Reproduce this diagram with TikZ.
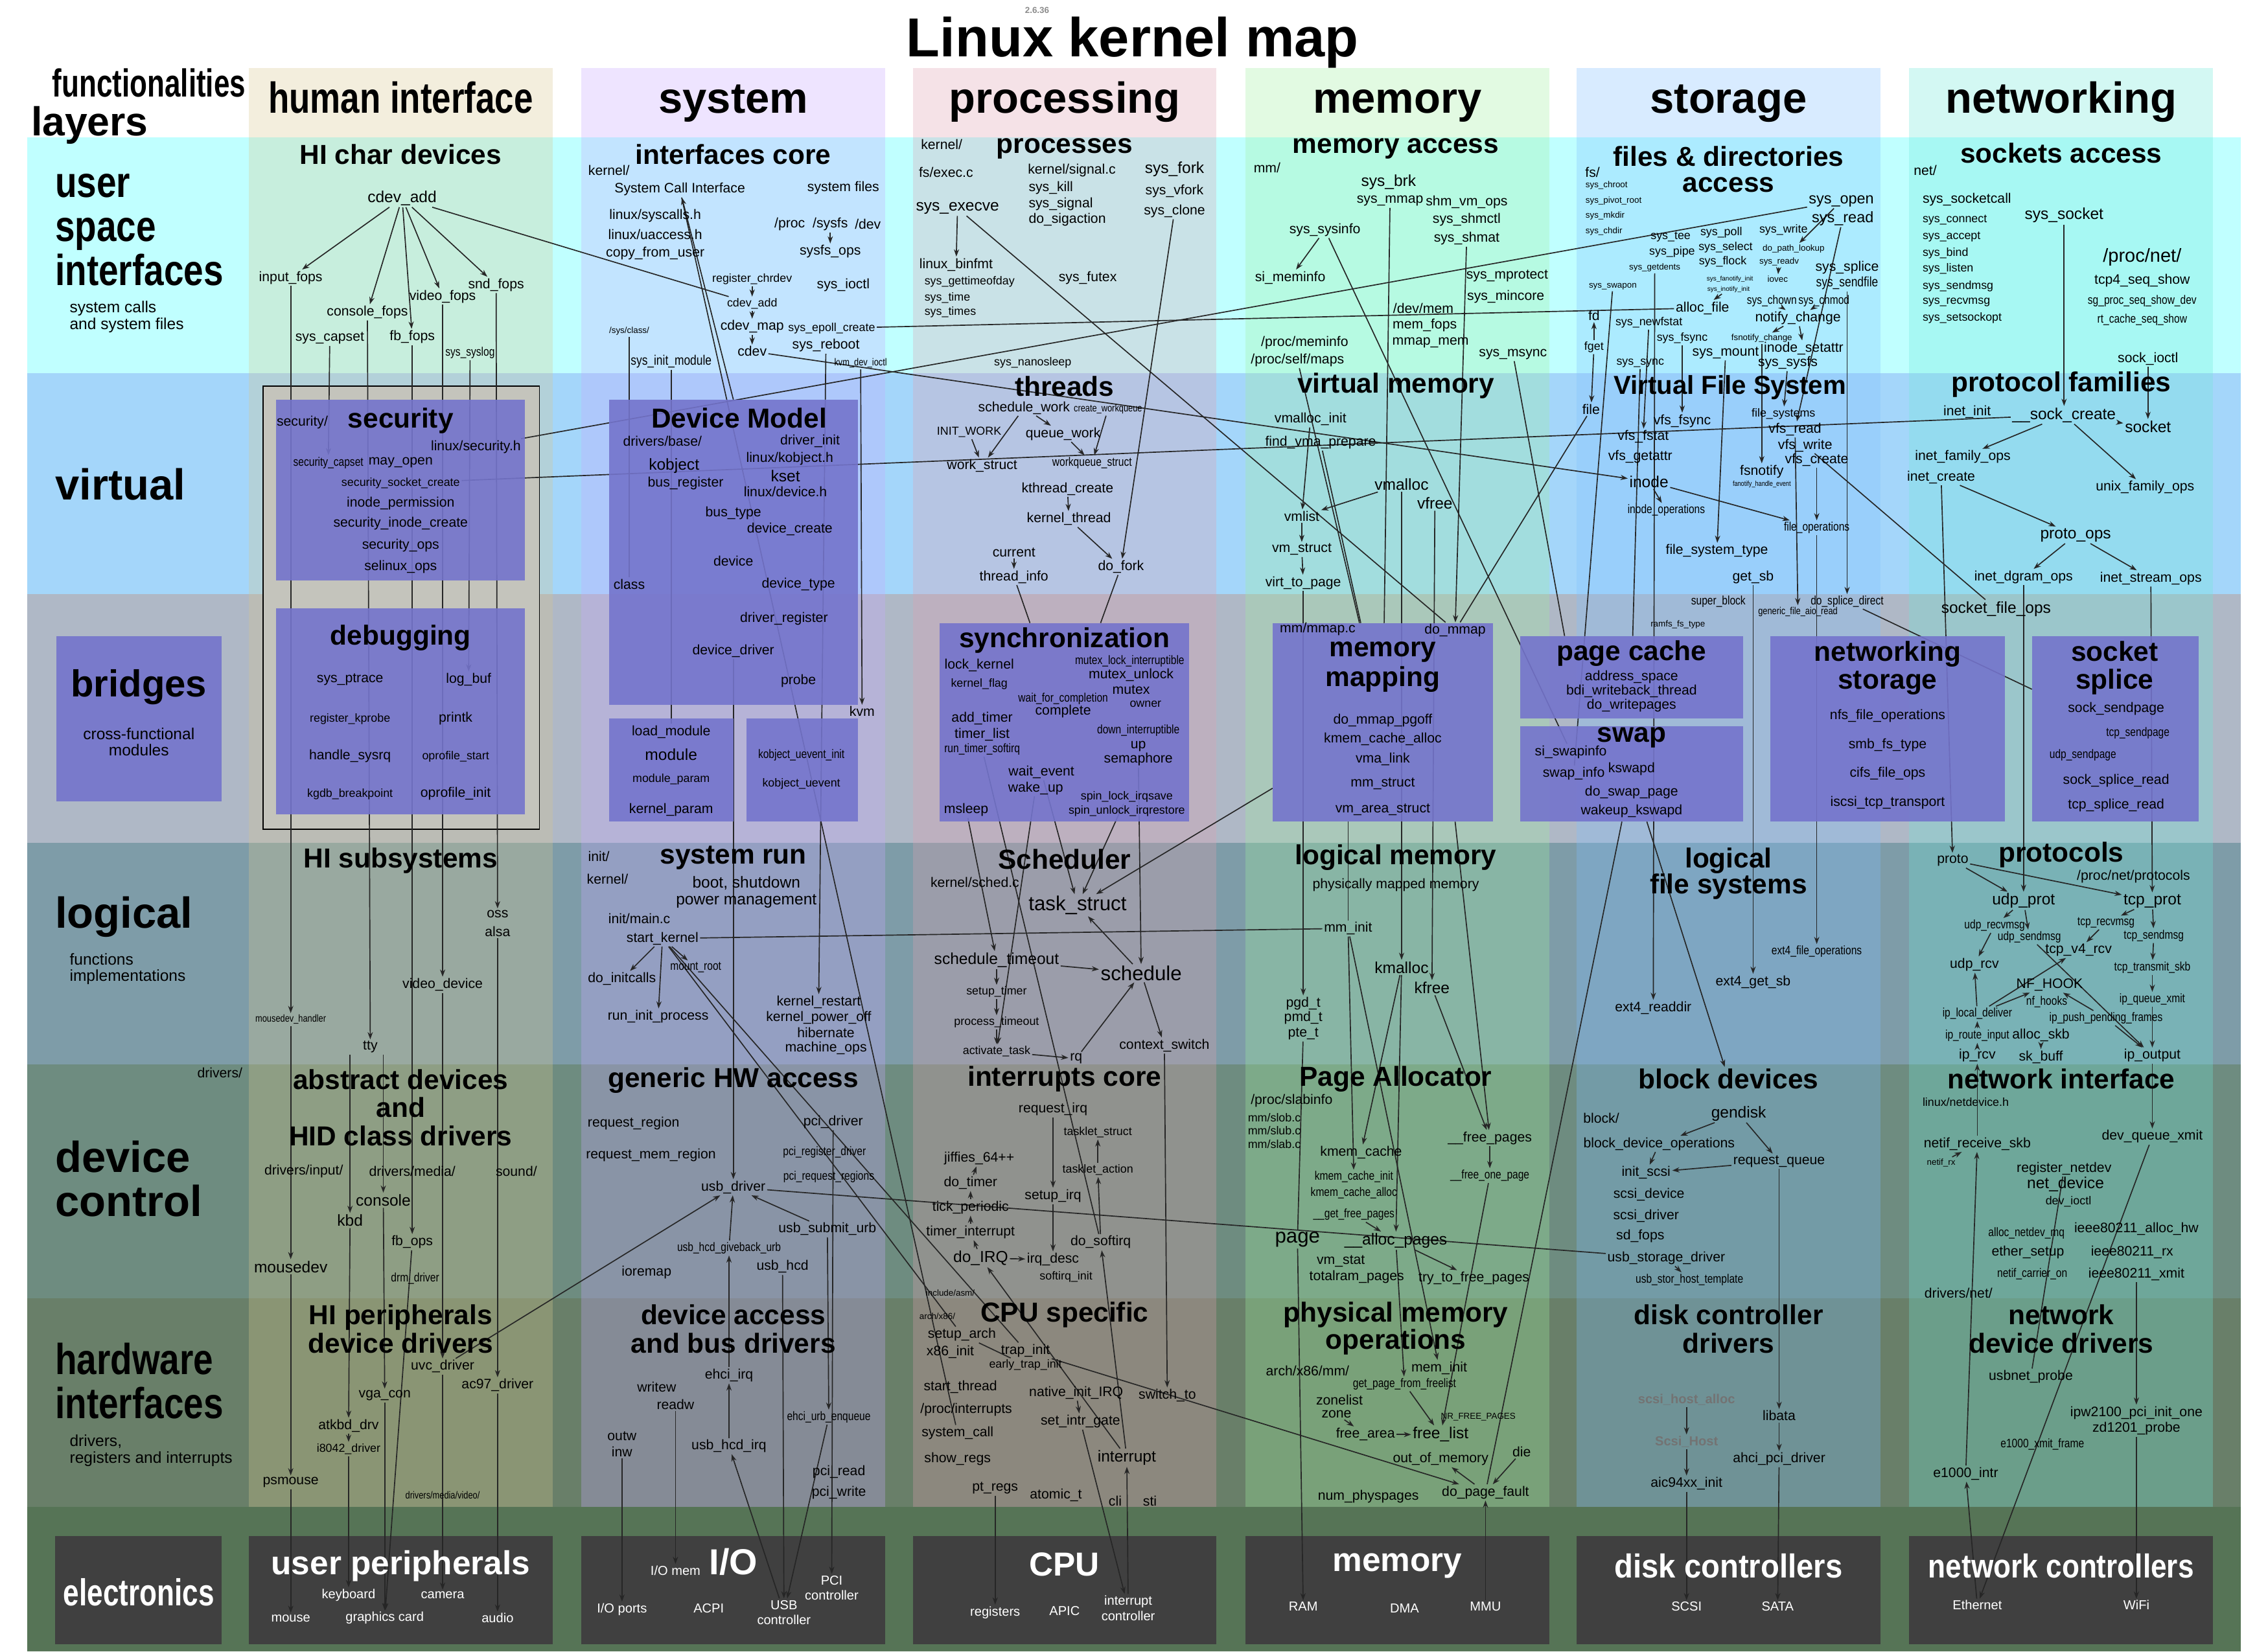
\documentclass[tikz,border=0pt]{standalone}
\usepackage{fontspec}
\usepackage{graphicx}
\setmainfont{Liberation Sans}
\newfontfamily\narfont[FakeStretch=0.82]{Liberation Sans}
\usetikzlibrary{arrows.meta, positioning, calc}

\definecolor{bandUser}{HTML}{C0FFFF}
\definecolor{bandVirt}{HTML}{A4D6FA}
\definecolor{bandBridge}{HTML}{AFB8C6}
\definecolor{bandLogic}{HTML}{7E9CA8}
\definecolor{bandDevice}{HTML}{6E8C80}
\definecolor{bandHW}{HTML}{697F69}
\definecolor{bandElec}{HTML}{567456}
\definecolor{tintHI}{HTML}{D8C890}
\definecolor{tintSys}{HTML}{C8A8FF}
\definecolor{tintProc}{HTML}{E0A0B0}
\definecolor{tintMem}{HTML}{A0F0A0}
\definecolor{tintStor}{HTML}{80C0FF}
\definecolor{tintNet}{HTML}{70E8D8}
\definecolor{modcol}{HTML}{7474CC}
\definecolor{chipcol}{HTML}{404040}
\definecolor{framecol}{HTML}{C4C4BC}

\pgfdeclarelayer{bands}
\pgfdeclarelayer{wires}
\pgfdeclarelayer{boxes}
\pgfsetlayers{bands,wires,boxes,main}

\begin{document}
\begin{tikzpicture}[
  x=1pt, y=-1pt,
  every node/.style={inner sep=1pt},
  fnX/.style={font=\fontsize{14}{15}\selectfont},
  fnA/.style={font=\fontsize{11}{12}\selectfont},
  fn/.style={font=\fontsize{9.5}{10.5}\selectfont},
  fnS/.style={font=\fontsize{8}{9}\selectfont},
  fnT/.style={font=\fontsize{6}{7}\selectfont},
  nfn/.style={font=\narfont\fontsize{9.5}{10.5}\selectfont},
  nfnS/.style={font=\narfont\fontsize{8.5}{9}\selectfont},
  nfnT/.style={font=\narfont\fontsize{7}{7.5}\selectfont},
  sect/.style={font=\bfseries\fontsize{19}{19.5}\selectfont, align=center},
  colhead/.style={font=\bfseries\fontsize{30}{30}\selectfont, anchor=base},
  layername/.style={font=\bfseries\fontsize{30}{30.5}\selectfont, align=left, anchor=west},
  layernote/.style={font=\fontsize{11}{11.5}\selectfont, align=left, anchor=west},
  module/.style={fill=modcol, fill opacity=.9, inner sep=0},
  chip/.style={fill=chipcol, inner sep=0},
  hwtitle/.style={font=\bfseries\fontsize{23}{23}\selectfont, text=white},
  hwlbl/.style={font=\fontsize{9}{10.5}\selectfont, text=white, align=center},
  dimlbl/.style={font=\bfseries\fontsize{9}{10}\selectfont, text=black!55},
  wire/.style={draw=black!85, line width=.75pt},
  link/.style={wire, -{Stealth[length=5pt,width=3.6pt]}}
]
\useasboundingbox (0,0) rectangle (1568,1142);

% layers and functionalities
\begin{pgfonlayer}{bands}
  \fill[white] (0,0) rectangle (1568,1142);
  \fill[bandUser] (19,95) rectangle (1549,258);
  \fill[bandVirt] (19,258) rectangle (1549,411);
  \fill[bandBridge] (19,411) rectangle (1549,583);
  \fill[bandLogic] (19,583) rectangle (1549,736);
  \fill[bandDevice] (19,736) rectangle (1549,898);
  \fill[bandHW] (19,898) rectangle (1549,1042);
  \fill[bandElec] (19,1042) rectangle (1549,1142);
  \foreach \cx/\tint in {172/tintHI,402/tintSys,631/tintProc,861/tintMem,1090/tintStor,1320/tintNet}
    \fill[\tint, opacity=.3] (\cx,47) rectangle ++(210,995);
  \draw[fill=framecol, line width=.8pt] (182,267) rectangle (373,573.5);
  % electronics
  \node[chip, minimum width=115, minimum height=75] (eelec) at (95.5,1099.5) {};
  \node[chip, minimum width=210, minimum height=75] (euser) at (277,1099.5) {};
  \node[chip, minimum width=210, minimum height=75] (eio) at (507,1099.5) {};
  \node[chip, minimum width=210, minimum height=75] (ecpu) at (736,1099.5) {};
  \node[chip, minimum width=210, minimum height=75] (emem) at (966,1099.5) {};
  \node[chip, minimum width=210, minimum height=75] (edisk) at (1195,1099.5) {};
  \node[chip, minimum width=210, minimum height=75] (enet) at (1425,1099.5) {};
\end{pgfonlayer}

% modules
\begin{pgfonlayer}{boxes}
  \node[module, minimum width=114, minimum height=114.5] (brbox) at (96,497) {};
  \node[module, minimum width=172, minimum height=125] (secbox) at (277,339) {};
  \node[module, minimum width=172, minimum height=142.5] (dbgbox) at (277,491.75) {};
  \node[module, minimum width=172, minimum height=211] (dmbox) at (507,382) {};
  \node[module, minimum width=86, minimum height=71] (modbox) at (464,532.5) {};
  \node[module, minimum width=77, minimum height=71] (kobbox) at (554.5,532.5) {};
  \node[module, minimum width=172.5, minimum height=137] (syncbox) at (736,499.5) {};
  \node[module, minimum width=152, minimum height=137] (mmapbox) at (956,499.5) {};
  \node[module, minimum width=154, minimum height=57] (pcbox) at (1128,468.5) {};
  \node[module, minimum width=154, minimum height=66] (swapbox) at (1128,535) {};
  \node[module, minimum width=162, minimum height=128] (nsbox) at (1305,504) {};
  \node[module, minimum width=115, minimum height=128] (ssbox) at (1462.5,504) {};
\end{pgfonlayer}

% headings
\node[font=\bfseries\fontsize{38}{38}\selectfont, anchor=base] (title) at (783,39) {Linux kernel map};
\node[font=\bfseries\fontsize{6}{6.5}\selectfont, text=black!45] (version) at (717,7) {2.6.36};
\node[font=\bfseries\fontsize{27}{27}\selectfont, anchor=base] (funcs) at (103,67) {\scalebox{.73}[1]{functionalities}};
\node[font=\bfseries\fontsize{28}{28}\selectfont, anchor=base] (layers) at (62,94) {layers};
\node[colhead] (chhuman) at (277,78) {\scalebox{.79}[1]{human interface}};
\node[colhead] (chsystem) at (507,78) {system};
\node[colhead] (chproc) at (736,78) {processing};
\node[colhead] (chmem) at (966,78) {memory};
\node[colhead] (chstor) at (1195,78) {storage};
\node[colhead] (chnet) at (1425,78) {networking};

\node[layername] (lyuser) at (37,159) {\scalebox{.82}[1]{user}\\\scalebox{.82}[1]{space}\\\scalebox{.82}[1]{interfaces}};
\node[layernote] (lyusernote) at (47,219) {system calls\\and system files};
\node[layername] (lyvirtual) at (37,335) {virtual};
\node[font=\bfseries\fontsize{26}{26}\selectfont] (brtitle) at (96,475) {bridges};
\node[font=\fontsize{11}{11.5}\selectfont, align=center] (brnote) at (96,513) {cross-functional\\modules};
\node[layername] (lylogical) at (37,634) {logical};
\node[layernote] (lylogicalnote) at (47,670) {functions\\implementations};
\node[layername] (lydevice) at (37,815) {device\\control};
\node[layername] (lyhw) at (37,955) {\scalebox{.82}[1]{hardware}\\\scalebox{.82}[1]{interfaces}};
\node[layernote] (lyhwnote) at (47,1003) {drivers,\\registers and interrupts};
\node[font=\bfseries\fontsize{26}{26}\selectfont, text=white] (eleclbl) at (96,1101) {\scalebox{.76}[1]{electronics}};

% human interface
\node[sect] (hchardev) at (277,107) {HI char devices};
\node[fnA] (hcdevadd) at (278,137) {cdev\_add};
\node[fn] (hinputfops) at (201,192) {input\_fops};
\node[fn] (hconsolefops) at (254,216) {console\_fops};
\node[fn] (hsyscapset) at (228,234) {sys\_capset};
\node[fn] (hfbfops) at (285,233) {fb\_fops};
\node[fn] (hvideofops) at (306,205) {video\_fops};
\node[fn] (hsndfops) at (343,197) {snd\_fops};
\node[nfnS] (hsyslog) at (325,244) {sys\_syslog};

\node[fn] (secdir) at (209,292) {security/};
\node[sect] (sectitle) at (277,291) {security};
\node[fn] (secsecurityh) at (329,309) {linux/security.h};
\node[nfnS] (secapset) at (227,320) {security\_capset};
\node[fn] (secmayopen) at (277,320) {may\_open};
\node[fnS] (secsockcreate) at (277,334) {security\_socket\_create};
\node[fn] (secinodeperm) at (277,348) {inode\_permission};
\node[fn] (secinodecreate) at (277,362) {security\_inode\_create};
\node[fn] (secops) at (277,377) {security\_ops};
\node[fn] (selinuxops) at (277,392) {selinux\_ops};

\node[sect] (dbgtitle) at (277,441) {debugging};
\node[fn] (dptrace) at (242,470) {sys\_ptrace};
\node[fn] (dlogbuf) at (324,470) {log\_buf};
\node[fnS] (dkprobe) at (242,497) {register\_kprobe};
\node[fn] (dprintk) at (315,497) {printk};
\node[fn] (dsysrq) at (242,523) {handle\_sysrq};
\node[fnS] (doprostart) at (315,523) {oprofile\_start};
\node[fnS] (dkgdb) at (242,549) {kgdb\_breakpoint};
\node[fn] (doproinit) at (315,549) {oprofile\_init};

\node[sect] (hsubsys) at (277,595) {HI subsystems};
\node[fn] (hoss) at (344,632) {oss};
\node[fn] (halsa) at (344,644) {alsa};
\node[fn] (hvideodev) at (306,681) {video\_device};
\node[nfnT] (hmousedevh) at (201,705) {mousedev\_handler};
\node[fn] (htty) at (256,724) {tty};
\node[fn] (hdrivers) at (152,742) {drivers/};

\node[sect] (habstract) at (277,766) {abstract devices\\and\\HID class drivers};
\node[fn] (hdrvinput) at (210,810) {drivers/input/};
\node[fn] (hdrvmedia) at (285,810) {drivers/media/};
\node[fn] (hsound) at (357,810) {sound/};
\node[fnA] (hconsole) at (265,830) {console};
\node[fnA] (hkbd) at (242,844) {kbd};
\node[fn] (hfbops) at (285,859) {fb\_ops};
\node[fnA] (hmousedev) at (201,876) {mousedev};
\node[nfnS] (hdrm) at (287,884) {drm\_driver};

\node[sect] (hperiph) at (277,919) {HI peripherals\\device drivers};
\node[fn] (huvc) at (306,945) {uvc\_driver};
\node[fn] (hac97) at (344,958) {ac97\_driver};
\node[fn] (hvgacon) at (266,965) {vga\_con};
\node[fn] (hatkbd) at (241,986) {atkbd\_drv};
\node[fnS] (hi8042) at (241,1002) {i8042\_driver};
\node[fn] (hpsmouse) at (201,1025) {psmouse};
\node[nfnT] (hmediavideo) at (306,1034) {drivers/media/video/};

\node[hwtitle] (eusertitle) at (277,1083) {user peripherals};
\node[hwlbl] (ekeyboard) at (241,1103) {keyboard};
\node[hwlbl] (ecamera) at (306,1103) {camera};
\node[hwlbl] (emouse) at (201,1119) {mouse};
\node[hwlbl] (egraphics) at (266,1119) {graphics card};
\node[hwlbl] (eaudio) at (344,1119) {audio};

% system
\node[sect] (sifcore) at (507,107) {interfaces core};
\node[fn] (skernel) at (421,118) {kernel/};
\node[fn] (ssci) at (470,131) {System Call Interface};
\node[fn] (ssysfiles) at (583,130) {system files};
\node[fn] (ssyscallsh) at (453,149) {linux/syscalls.h};
\node[fn] (suaccess) at (453,162) {linux/uaccess.h};
\node[fn] (scopyfrom) at (453,175) {copy\_from\_user};
\node[fn] (sproc) at (546,155) {/proc};
\node[fn] (ssysfs) at (574,155) {/sysfs};
\node[fn] (sdev) at (600,155) {/dev};
\node[fn] (ssysfsops) at (574,174) {sysfs\_ops};
\node[fnS] (sregchrdev) at (520,193) {register\_chrdev};
\node[fn] (ssysioctl) at (583,197) {sys\_ioctl};
\node[fnS] (scdevadd) at (520,210) {cdev\_add};
\node[fnT] (ssysclass) at (435,229) {/sys/class/};
\node[fn] (scdevmap) at (520,226) {cdev\_map};
\node[fnS] (sepoll) at (575,227) {sys\_epoll\_create};
\node[fn] (scdev) at (520,243) {cdev};
\node[fn] (ssysreboot) at (571,239) {sys\_reboot};
\node[nfn] (ssysinitmod) at (464,250) {sys\_init\_module};
\node[nfnT] (skvmioctl) at (595,251) {kvm\_dev\_ioctl};

\node[sect] (dmtitle) at (511,289) {Device Model};
\node[fn] (dmbase) at (458,305) {drivers/base/};
\node[fn] (dmdrvinit) at (560,305) {driver\_init};
\node[fn] (dmkobjh) at (546,317) {linux/kobject.h};
\node[fnA] (dmkobject) at (466,322) {kobject};
\node[fnA] (dmkset) at (543,329) {kset};
\node[fn] (dmbusreg) at (474,334) {bus\_register};
\node[fn] (dmdeviceh) at (543,340) {linux/device.h};
\node[fn] (dmbustype) at (507,355) {bus\_type};
\node[fn] (dmdevcreate) at (546,366) {device\_create};
\node[fn] (dmdevice) at (507,388) {device};
\node[fn] (dmclass) at (435,404) {class};
\node[fn] (dmdevtype) at (552,404) {device\_type};
\node[fn] (dmdrvreg) at (542,428) {driver\_register};
\node[fn] (dmdevdrv) at (507,450) {device\_driver};
\node[fn] (dmprobe) at (552,471) {probe};
\node[fn] (skvm) at (596,492) {kvm};
\node[fn] (sloadmod) at (464,506) {load\_module};
\node[fnA] (smodule) at (464,522) {module};
\node[fnS] (smodparam) at (464,539) {module\_param};
\node[fn] (skernparam) at (464,560) {kernel\_param};
\node[nfnS] (skobinit) at (554,522) {kobject\_uevent\_init};
\node[fnS] (skobuevent) at (554,542) {kobject\_uevent};

\node[fn] (sinit) at (414,592) {init/};
\node[sect] (ssysrun) at (507,593) {system run};
\node[fn] (skerneldir) at (420,608) {kernel/};
\node[fnA, align=center] (sboot) at (516,617) {boot, shutdown\\power management};
\node[fn] (sinitmain) at (442,635) {init/main.c};
\node[fn] (sstartkernel) at (458,649) {start\_kernel};
\node[nfnS] (smountroot) at (481,669) {mount\_root};
\node[fn] (sdoinitcalls) at (430,677) {do\_initcalls};
\node[fn] (sruninit) at (455,703) {run\_init\_process};
\node[fn] (skernrestart) at (566,693) {kernel\_restart};
\node[fn] (skernpoweroff) at (566,704) {kernel\_power\_off};
\node[fn] (shibernate) at (571,714) {hibernate};
\node[fn] (smachineops) at (571,725) {machine\_ops};

\node[sect] (sgenhw) at (507,747) {generic HW access};
\node[fn] (sreqregion) at (438,777) {request\_region};
\node[fn] (sreqmemregion) at (450,799) {request\_mem\_region};
\node[fn] (spcidriver) at (576,776) {pci\_driver};
\node[nfnS] (spciregdrv) at (570,797) {pci\_register\_driver};
\node[nfnS] (spcireqreg) at (573,814) {pci\_request\_regions};
\node[fn] (susbdriver) at (507,821) {usb\_driver};
\node[fn] (ssubmiturb) at (572,850) {usb\_submit\_urb};
\node[nfnS] (susbhcdgive) at (504,863) {usb\_hcd\_giveback\_urb};
\node[fn] (susbhcd) at (541,876) {usb\_hcd};
\node[fn] (sioremap) at (447,880) {ioremap};

\node[sect] (sdevaccess) at (507,919) {device access\\and bus drivers};
\node[fn] (sehciirq) at (504,951) {ehci\_irq};
\node[fn] (swritew) at (454,959) {writew};
\node[fn] (sreadw) at (467,971) {readw};
\node[nfnS] (sehciurb) at (573,980) {ehci\_urb\_enqueue};
\node[fn] (soutw) at (430,993) {outw};
\node[fn] (sinw) at (430,1004) {inw};
\node[fn] (susbhcdirq) at (504,1000) {usb\_hcd\_irq};
\node[fn] (spciread) at (580,1018) {pci\_read};
\node[fn] (spciwrite) at (580,1032) {pci\_write};

\node[hwtitle, font=\bfseries\fontsize{25}{25}\selectfont] (eiotitle) at (507,1080) {I/O};
\node[hwlbl] (eiomem) at (467,1086) {I/O mem};
\node[hwlbl] (epcictl) at (575,1098) {PCI\\controller};
\node[hwlbl] (eioports) at (430,1113) {I/O ports};
\node[hwlbl] (eacpi) at (490,1112) {ACPI};
\node[hwlbl] (eusbctl) at (542,1115) {USB\\controller};

% processing
\node[fn] (pkernel) at (651,100) {kernel/};
\node[sect] (pprocesses) at (736,103) {processes};
\node[fn] (pexec) at (654,119) {fs/exec.c};
\node[fn] (psignal) at (741,118) {kernel/signal.c};
\node[fn, anchor=west] (psyskill) at (710,130) {sys\_kill};
\node[fn, anchor=west] (psyssignal) at (710,141) {sys\_signal};
\node[fn, anchor=west] (pdosigaction) at (710,152) {do\_sigaction};
\node[fnA] (pexecve) at (662,144) {sys\_execve};
\node[fnA] (pfork) at (812,117) {sys\_fork};
\node[fn] (pvfork) at (812,132) {sys\_vfork};
\node[fn] (pclone) at (812,146) {sys\_clone};
\node[fn] (pbinfmt) at (661,183) {linux\_binfmt};
\node[fnS, anchor=west] (pgettime) at (638,195) {sys\_gettimeofday};
\node[fnS, anchor=west] (psystime) at (638,206) {sys\_time};
\node[fnS, anchor=west] (psystimes) at (638,216) {sys\_times};
\node[fn] (pfutex) at (752,192) {sys\_futex};
\node[fnS] (pnanosleep) at (714,251) {sys\_nanosleep};

\node[sect] (pthreads) at (736,267) {threads};
\node[fn] (pschedwork) at (708,282) {schedule\_work};
\node[nfnT] (pcreatewq) at (766,283) {create\_workqueue};
\node[fnS] (pinitwork) at (670,299) {INIT\_WORK};
\node[fn] (pqueuework) at (735,300) {queue\_work};
\node[fn] (pworkstruct) at (679,322) {work\_struct};
\node[nfnS] (pwqstruct) at (755,320) {workqueue\_struct};
\node[fn] (pkthread) at (738,338) {kthread\_create};
\node[fn] (pkernthread) at (739,359) {kernel\_thread};
\node[fn] (pcurrent) at (701,382) {current};
\node[fn] (pthreadinfo) at (701,399) {thread\_info};
\node[fn] (pdofork) at (775,392) {do\_fork};

\node[sect] (psynctitle) at (736,443) {synchronization};
\node[fn] (plockkernel) at (677,460) {lock\_kernel};
\node[fnS] (pkernflag) at (677,473) {kernel\_flag};
\node[nfnS] (pmutexint) at (781,457) {mutex\_lock\_interruptible};
\node[fn] (pmutexunlock) at (782,467) {mutex\_unlock};
\node[fn] (pmutex) at (782,477) {mutex};
\node[fnS] (powner) at (792,487) {owner};
\node[nfnS] (pwaitcompl) at (735,483) {wait\_for\_completion};
\node[fn] (pcomplete) at (735,492) {complete};
\node[fn] (paddtimer) at (679,497) {add\_timer};
\node[fn] (ptimerlist) at (679,508) {timer\_list};
\node[nfnS] (prunsoftirq) at (679,518) {run\_timer\_softirq};
\node[nfnS] (pdownint) at (787,505) {down\_interruptible};
\node[fn] (pup) at (787,516) {up};
\node[fn] (psemaphore) at (787,525) {semaphore};
\node[fn] (pwaitevent) at (720,534) {wait\_event};
\node[fn] (pwakeup) at (716,545) {wake\_up};
\node[fnS] (pspinlock) at (779,551) {spin\_lock\_irqsave};
\node[fnS] (pspinunlock) at (779,561) {spin\_unlock\_irqrestore};
\node[fn] (pmsleep) at (668,560) {msleep};

\node[sect] (psched) at (736,594) {Scheduler};
\node[fn] (pschedc) at (674,610) {kernel/sched.c};
\node[fnX] (ptaskstruct) at (745,626) {task\_struct};
\node[fnA] (pschedtimeout) at (689,664) {schedule\_timeout};
\node[fnX] (pschedule) at (789,673) {schedule};
\node[fnS] (psetuptimer) at (689,686) {setup\_timer};
\node[fnS] (pproctimeout) at (689,707) {process\_timeout};
\node[fnS] (pactivate) at (689,727) {activate\_task};
\node[fn] (prq) at (744,732) {rq};
\node[fn] (pctxswitch) at (805,723) {context\_switch};

\node[sect] (pintcore) at (736,746) {interrupts core};
\node[fn] (preqirq) at (728,767) {request\_irq};
\node[fnS] (ptaskletstruct) at (759,783) {tasklet\_struct};
\node[fn] (pjiffies) at (677,801) {jiffies\_64++};
\node[fnS] (ptaskletaction) at (759,809) {tasklet\_action};
\node[fn] (pdotimer) at (671,818) {do\_timer};
\node[fn] (psetupirq) at (728,827) {setup\_irq};
\node[fn] (ptick) at (671,835) {tick\_periodic};
\node[fn] (ptimerint) at (671,852) {timer\_interrupt};
\node[fn] (pdosoftirq) at (761,859) {do\_softirq};
\node[fnA] (pdoirq) at (678,870) {do\_IRQ};
\node[fn] (pirqdesc) at (728,871) {irq\_desc};
\node[fnS] (psoftirqinit) at (737,883) {softirq\_init};

\node[fnT] (pincasm) at (657,894) {include/asm/};
\node[fnT] (parchx86) at (648,910) {arch/x86/};
\node[sect] (pcpuspec) at (736,909) {CPU specific};
\node[fn] (psetuparch) at (665,923) {setup\_arch};
\node[fn] (px86init) at (657,935) {x86\_init};
\node[fn] (ptrapinit) at (709,934) {trap\_init};
\node[fnS] (pearlytrap) at (709,944) {early\_trap\_init};
\node[fn] (pstartthread) at (664,959) {start\_thread};
\node[fn] (pnativeirq) at (744,963) {native\_init\_IRQ};
\node[fn] (pprocint) at (668,975) {/proc/interrupts};
\node[fn] (psetintr) at (747,983) {set\_intr\_gate};
\node[fn] (psyscall) at (662,991) {system\_call};
\node[fn] (pshowregs) at (662,1009) {show\_regs};
\node[fnA] (pinterrupt) at (779,1008) {interrupt};
\node[fn] (pptregs) at (688,1029) {pt\_regs};
\node[fn] (patomic) at (730,1034) {atomic\_t};
\node[fn] (pcli) at (771,1038) {cli};
\node[fn] (psti) at (795,1038) {sti};
\node[fn] (pswitchto) at (807,965) {switch\_to};

\node[hwtitle] (ecputitle) at (736,1082) {CPU};
\node[hwlbl] (eregisters) at (688,1115) {registers};
\node[hwlbl] (eapic) at (736,1114) {APIC};
\node[hwlbl] (eintctl) at (780,1112) {interrupt\\controller};

% memory
\node[sect] (mmemaccess) at (965,103) {memory access};
\node[fn] (mmm) at (876,116) {mm/};
\node[fnA] (msysbrk) at (960,126) {sys\_brk};
\node[fn] (msysmmap) at (961,139) {sys\_mmap};
\node[fn] (mshmvmops) at (1014,140) {shm\_vm\_ops};
\node[fn] (mshmctl) at (1014,152) {sys\_shmctl};
\node[fn] (mshmat) at (1014,165) {sys\_shmat};
\node[fn] (msysinfo) at (916,159) {sys\_sysinfo};
\node[fn] (msimeminfo) at (892,192) {si\_meminfo};
\node[fn] (mmprotect) at (1042,191) {sys\_mprotect};
\node[fn] (mmincore) at (1041,205) {sys\_mincore};
\node[fn] (mdevmem) at (984,213) {/dev/mem};
\node[fn] (mmemfops) at (985,225) {mem\_fops};
\node[fn] (mmmapmem) at (989,237) {mmap\_mem};
\node[fn] (mprocmeminfo) at (902,237) {/proc/meminfo};
\node[fn] (mprocmaps) at (897,249) {/proc/self/maps};
\node[fn] (mmsync) at (1046,245) {sys\_msync};

\node[sect] (mvirtmem) at (965,267) {virtual memory};
\node[fn] (mvmallocinit) at (906,290) {vmalloc\_init};
\node[fn] (mfindvma) at (913,306) {find\_vma\_prepare};
\node[fnA] (mvmalloc) at (969,335) {vmalloc};
\node[fnA] (mvfree) at (992,348) {vfree};
\node[fn] (mvmlist) at (900,357) {vmlist};
\node[fn] (mvmstruct) at (900,380) {vm\_struct};
\node[fn] (mvirttopage) at (901,403) {virt\_to\_page};

\node[fn] (mmmapc) at (911,435) {mm/mmap.c};
\node[fn] (mdommap) at (1006,436) {do\_mmap};
\node[sect] (mmaptitle) at (956,451) {memory};
\node[sect] (mmaptitletwo) at (956,470) {mapping};
\node[fn] (mdommappgoff) at (956,498) {do\_mmap\_pgoff};
\node[fn] (mkmcalloc) at (956,511) {kmem\_cache\_alloc};
\node[fn] (mvmalink) at (956,525) {vma\_link};
\node[fn] (mmmstruct) at (956,542) {mm\_struct};
\node[fn] (mvmarea) at (956,560) {vm\_area\_struct};

\node[sect] (mlogmem) at (965,593) {logical memory};
\node[fn] (mphys) at (965,612) {physically mapped memory};
\node[fn] (mmminit) at (932,642) {mm\_init};
\node[fnA] (mkmalloc) at (969,669) {kmalloc};
\node[fnA] (mkfree) at (990,683) {kfree};
\node[fn] (mpgd) at (901,694) {pgd\_t};
\node[fn] (mpmd) at (901,704) {pmd\_t};
\node[fn] (mpte) at (901,715) {pte\_t};

\node[sect] (mpagealloc) at (965,746) {Page Allocator};
\node[fn] (mslabinfo) at (893,761) {/proc/slabinfo};
\node[fnS] (mslob) at (881,773) {mm/slob.c};
\node[fnS] (mslub) at (881,782) {mm/slub.c};
\node[fnS] (mslab) at (881,791) {mm/slab.c};
\node[fn] (mkmemcache) at (941,797) {kmem\_cache};
\node[fn] (mfreepages) at (1030,787) {\_\_free\_pages};
\node[nfnS] (mkmcinit) at (936,814) {kmem\_cache\_init};
\node[nfnS] (mkmcalloctwo) at (936,825) {kmem\_cache\_alloc};
\node[nfnS] (mfreeonepage) at (1030,813) {\_\_free\_one\_page};
\node[nfnS] (mgetfree) at (936,840) {\_\_get\_free\_pages};
\node[fnX] (mpage) at (897,857) {page};
\node[fnA] (mallocpages) at (965,858) {\_\_alloc\_pages};
\node[fn] (mvmstat) at (927,872) {vm\_stat};
\node[fn] (mtotalram) at (938,883) {totalram\_pages};
\node[fn] (mtrytofree) at (1019,884) {try\_to\_free\_pages};

\node[sect] (mphysops) at (965,909) {physical memory};
\node[sect] (mphysopstwo) at (965,928) {operations};
\node[fn] (marchmm) at (904,948) {arch/x86/mm/};
\node[fn] (mmeminit) at (995,946) {mem\_init};
\node[nfnS] (mgetpagefl) at (971,957) {get\_page\_from\_freelist};
\node[fn] (mzonelist) at (926,968) {zonelist};
\node[fn] (mzone) at (924,978) {zone};
\node[fn] (mfreearea) at (944,992) {free\_area};
\node[fnA] (mfreelist) at (996,992) {free\_list};
\node[fnT] (mnrfree) at (1022,980) {NR\_FREE\_PAGES};
\node[fn] (mdie) at (1052,1004) {die};
\node[fn] (moom) at (996,1009) {out\_of\_memory};
\node[fn] (mnumphys) at (946,1035) {num\_physpages};
\node[fn] (mdopagefault) at (1027,1032) {do\_page\_fault};

\node[hwtitle] (ememtitle) at (966,1083) {memory};
\node[hwlbl] (eram) at (901,1111) {RAM};
\node[hwlbl] (edma) at (971,1112) {DMA};
\node[hwlbl] (emmu) at (1027,1111) {MMU};

% storage
\node[sect] (ffiles) at (1195,108) {files \& directories};
\node[sect] (ffilestwo) at (1195,128) {access};
\node[fn] (ffs) at (1101,119) {fs/};
\node[fnT, anchor=west] (fchroot) at (1095,128) {sys\_chroot};
\node[fnT, anchor=west] (fpivot) at (1095,139) {sys\_pivot\_root};
\node[fnT, anchor=west] (fmkdir) at (1095,149) {sys\_mkdir};
\node[fnT, anchor=west] (fchdir) at (1095,160) {sys\_chdir};
\node[font=\fontsize{10.5}{11}\selectfont] (fsysopen) at (1273,139) {sys\_open};
\node[font=\fontsize{10.5}{11}\selectfont] (fsysread) at (1274,151) {sys\_read};
\node[fnS] (fsystee) at (1155,164) {sys\_tee};
\node[fnS] (fsyspipe) at (1156,174) {sys\_pipe};
\node[fnS] (fsyspoll) at (1190,161) {sys\_poll};
\node[fnS] (fsysselect) at (1193,171) {sys\_select};
\node[fnS] (fsysflock) at (1191,181) {sys\_flock};
\node[fnS] (fsyswrite) at (1233,159) {sys\_write};
\node[fnT] (fpathlookup) at (1240,172) {do\_path\_lookup};
\node[fnT] (fsysreadv) at (1230,181) {sys\_readv};
\node[fnT] (fiovec) at (1229,193) {iovec};
\node[fnT] (fgetdents) at (1144,185) {sys\_getdents};
\node[font=\fontsize{4.5}{5}\selectfont, inner sep=1pt] (ffanotify) at (1196,193) {sys\_fanotify\_init};
\node[font=\fontsize{4.5}{5}\selectfont, inner sep=1pt] (finotify) at (1195,200) {sys\_inotify\_init};
\node[fn] (fsplice) at (1277,185) {sys\_splice};
\node[nfn] (fsendfile) at (1277,196) {sys\_sendfile};
\node[fnT] (fswapon) at (1115,198) {sys\_swapon};
\node[fn] (fallocfile) at (1177,213) {alloc\_file};
\node[nfnS] (fchown) at (1225,208) {sys\_chown};
\node[nfnS] (fchmod) at (1261,208) {sys\_chmod};
\node[fn] (fnotifychange) at (1243,220) {notify\_change};
\node[fn] (ffd) at (1102,218) {fd};
\node[fnS] (fnewfstat) at (1140,223) {sys\_newfstat};
\node[fnS] (fsysfsync) at (1163,234) {sys\_fsync};
\node[fnT] (ffsnchange) at (1218,234) {fsnotify\_change};
\node[fnS] (ffget) at (1102,240) {fget};
\node[fn] (finodesetattr) at (1247,241) {inode\_setattr};
\node[fn] (fmount) at (1193,244) {sys\_mount};
\node[fnS] (fsync) at (1134,251) {sys\_sync};
\node[fn] (fsyssysfs) at (1236,251) {sys\_sysfs};

\node[font=\bfseries\fontsize{18}{18}\selectfont] (fvfs) at (1196,268) {Virtual File System};
\node[fn] (ffile) at (1100,283) {file};
\node[fnS] (ffilesystems) at (1233,286) {file\_systems};
\node[fn] (fvfsfsync) at (1163,291) {vfs\_fsync};
\node[fn] (fvfsfstat) at (1136,302) {vfs\_fstat};
\node[fn] (fvfsgetattr) at (1134,316) {vfs\_getattr};
\node[fn] (fvfsread) at (1241,297) {vfs\_read};
\node[fn] (fvfswrite) at (1248,308) {vfs\_write};
\node[fn] (fvfscreate) at (1256,318) {vfs\_create};
\node[fnA] (finode) at (1140,333) {inode};
\node[fn] (ffsnotify) at (1218,326) {fsnotify};
\node[font=\narfont\fontsize{5}{5.5}\selectfont, inner sep=1pt] (ffanotifyh) at (1218,335) {fanotify\_handle\_event};
\node[nfnS] (finodeops) at (1152,353) {inode\_operations};
\node[nfnS] (ffileops) at (1256,365) {file\_operations};
\node[fn] (ffstype) at (1187,381) {file\_system\_type};
\node[fn] (fgetsb) at (1212,399) {get\_sb};
\node[nfnS] (fsuperblock) at (1188,416) {super\_block};
\node[fnT] (framfs) at (1160,432) {ramfs\_fs\_type};
\node[nfnT] (fgenaio) at (1243,423) {generic\_file\_aio\_read};
\node[nfnS] (fsplicedirect) at (1277,416) {do\_splice\_direct};

\node[sect] (fpctitle) at (1128,452) {page cache};
\node[fn] (faddrspace) at (1128,468) {address\_space};
\node[fn] (fbdi) at (1128,478) {bdi\_writeback\_thread};
\node[fn] (fdowritepages) at (1128,488) {do\_writepages};
\node[sect] (fswaptitle) at (1128,510) {swap};
\node[fn] (fsiswapinfo) at (1086,520) {si\_swapinfo};
\node[fn] (fswapinfo) at (1088,535) {swap\_info};
\node[fn] (fkswapd) at (1128,532) {kswapd};
\node[fn] (fdoswappage) at (1128,548) {do\_swap\_page};
\node[fn] (fwakeupkswapd) at (1128,561) {wakeup\_kswapd};

\node[sect] (flogfs) at (1195,595) {logical};
\node[sect] (flogfstwo) at (1195,613) {file systems};
\node[nfnS] (fext4fileops) at (1256,658) {ext4\_file\_operations};
\node[fn] (fext4getsb) at (1212,679) {ext4\_get\_sb};
\node[fn] (fext4readdir) at (1143,697) {ext4\_readdir};

\node[sect] (fblockdev) at (1195,746) {block devices};
\node[fn] (fblock) at (1107,773) {block/};
\node[fnA] (fgendisk) at (1202,770) {gendisk};
\node[fn] (fbdo) at (1147,791) {block\_device\_operations};
\node[fn] (freqqueue) at (1230,803) {request\_queue};
\node[fn] (finitscsi) at (1138,811) {init\_scsi};
\node[fn] (fscsidevice) at (1140,826) {scsi\_device};
\node[fn] (fscsidriver) at (1138,841) {scsi\_driver};
\node[fn] (fsdfops) at (1134,855) {sd\_fops};
\node[fn] (fusbstorage) at (1152,870) {usb\_storage\_driver};
\node[nfnS] (fusbstorhost) at (1168,885) {usb\_stor\_host\_template};

\node[sect] (fdiskctl) at (1195,919) {disk controller\\drivers};
\node[dimlbl] (fscsihostalloc) at (1166,968) {scsi\_host\_alloc};
\node[dimlbl] (fscsihost) at (1166,997) {Scsi\_Host};
\node[fn] (faic) at (1166,1026) {aic94xx\_init};
\node[fn] (flibata) at (1230,979) {libata};
\node[fn] (fahci) at (1230,1009) {ahci\_pci\_driver};

\node[hwtitle] (edisktitle) at (1195,1083) {\scalebox{.92}[1]{disk controllers}};
\node[hwlbl] (escsi) at (1166,1111) {SCSI};
\node[hwlbl] (esata) at (1229,1111) {SATA};

% networking
\node[sect] (nsockacc) at (1425,106) {sockets access};
\node[fn] (nnet) at (1331,118) {net/};
\node[fn, anchor=west] (nsocketcall) at (1328,138) {sys\_socketcall};
\node[fnS, anchor=west] (nconnect) at (1328,152) {sys\_connect};
\node[fnS, anchor=west] (naccept) at (1328,164) {sys\_accept};
\node[fnS, anchor=west] (nbind) at (1328,175) {sys\_bind};
\node[fnS, anchor=west] (nlisten) at (1328,186) {sys\_listen};
\node[fnS, anchor=west] (nsendmsg) at (1328,198) {sys\_sendmsg};
\node[fnS, anchor=west] (nrecvmsg) at (1328,209) {sys\_recvmsg};
\node[fnS, anchor=west] (nsetsockopt) at (1328,220) {sys\_setsockopt};
\node[fnA] (nsyssocket) at (1427,149) {sys\_socket};
\node[font=\fontsize{13}{14}\selectfont] (nprocnet) at (1481,178) {/proc/net/};
\node[fn] (ntcpfourseq) at (1481,194) {tcp4\_seq\_show};
\node[nfnS] (nsgproc) at (1481,208) {sg\_proc\_seq\_show\_dev};
\node[nfnS] (nrtcache) at (1481,221) {rt\_cache\_seq\_show};
\node[fn] (nsockioctl) at (1485,248) {sock\_ioctl};

\node[sect] (nprotofam) at (1425,266) {protocol families};
\node[fn] (ninetinit) at (1360,285) {inet\_init};
\node[fnA] (nsockcreate) at (1427,287) {\_\_sock\_create};
\node[fnA] (nsocket) at (1485,295) {socket};
\node[fn] (ninetfam) at (1357,316) {inet\_family\_ops};
\node[fn] (ninetcreate) at (1342,330) {inet\_create};
\node[fn] (nunixfam) at (1483,337) {unix\_family\_ops};
\node[fnA] (nprotoops) at (1435,370) {proto\_ops};
\node[fn] (ninetdgram) at (1399,399) {inet\_dgram\_ops};
\node[fn] (ninetstream) at (1487,400) {inet\_stream\_ops};

\node[fnA] (nsockfileops) at (1380,421) {socket\_file\_ops};
\node[sect] (nstitle) at (1305,462) {networking\\storage};
\node[fn] (nnfs) at (1305,495) {nfs\_file\_operations};
\node[fn] (nsmb) at (1305,515) {smb\_fs\_type};
\node[fn] (ncifs) at (1305,535) {cifs\_file\_ops};
\node[fn] (niscsi) at (1305,555) {iscsi\_tcp\_transport};
\node[sect] (nsstitle) at (1462,462) {socket\\splice};
\node[fn] (nsocksendpage) at (1463,490) {sock\_sendpage};
\node[nfnS] (ntcpsendpage) at (1478,507) {tcp\_sendpage};
\node[nfnS] (nudpsendpage) at (1440,522) {udp\_sendpage};
\node[fn] (nsocksplice) at (1463,540) {sock\_splice\_read};
\node[fn] (ntcpsplice) at (1463,557) {tcp\_splice\_read};

\node[fn] (nproto) at (1350,595) {proto};
\node[sect] (nprotocols) at (1425,591) {protocols};
\node[fn] (nprocproto) at (1475,606) {/proc/net/protocols};
\node[fnA] (nudpprot) at (1399,623) {udp\_prot};
\node[fnA] (ntcpprot) at (1488,623) {tcp\_prot};
\node[nfnS] (nudprecv) at (1379,640) {udp\_recvmsg};
\node[nfnS] (ntcprecv) at (1456,638) {tcp\_recvmsg};
\node[nfnS] (nudpsend) at (1403,648) {udp\_sendmsg};
\node[nfnS] (ntcpsend) at (1489,647) {tcp\_sendmsg};
\node[fn] (ntcpvfour) at (1437,657) {tcp\_v4\_rcv};
\node[fn] (nudprcv) at (1365,667) {udp\_rcv};
\node[nfnS] (ntcpxmit) at (1488,669) {tcp\_transmit\_skb};
\node[fn] (nnfhook) at (1417,681) {NF\_HOOK};
\node[nfnS] (nnfhooks) at (1415,693) {nf\_hooks};
\node[nfnS] (nipqueue) at (1488,691) {ip\_queue\_xmit};
\node[nfnS] (niplocal) at (1367,701) {ip\_local\_deliver};
\node[nfnS] (nippush) at (1456,704) {ip\_push\_pending\_frames};
\node[nfnS] (niproute) at (1367,716) {ip\_route\_input};
\node[fn] (nallocskb) at (1411,716) {alloc\_skb};
\node[fn] (niprcv) at (1367,730) {ip\_rcv};
\node[fn] (nskbuff) at (1411,731) {sk\_buff};
\node[fn] (nipoutput) at (1488,730) {ip\_output};

\node[sect] (nnetif) at (1425,746) {network interface};
\node[fnS] (nnetdevh) at (1359,762) {linux/netdevice.h};
\node[fn] (ndevqueue) at (1488,786) {dev\_queue\_xmit};
\node[fn] (nnetifrecv) at (1367,791) {netif\_receive\_skb};
\node[fnT] (nnetifrx) at (1342,804) {netif\_rx};
\node[fn] (nregnetdev) at (1427,808) {register\_netdev};
\node[fnA] (nnetdevice) at (1428,819) {net\_device};
\node[fnS] (ndevioctl) at (1430,831) {dev\_ioctl};
\node[nfnS] (nallocnetdev) at (1401,853) {alloc\_netdev\_mq};
\node[fn] (nieeealloc) at (1477,850) {ieee80211\_alloc\_hw};
\node[fn] (nethersetup) at (1402,866) {ether\_setup};
\node[fn] (nieeerx) at (1474,866) {ieee80211\_rx};
\node[nfnS] (ncarrier) at (1405,881) {netif\_carrier\_on};
\node[fn] (nieeexmit) at (1477,881) {ieee80211\_xmit};
\node[fn] (ndrvnet) at (1354,894) {drivers/net/};

\node[sect] (nnetdrv) at (1425,919) {network\\device drivers};
\node[fn] (nusbnet) at (1404,952) {usbnet\_probe};
\node[fn] (nipw) at (1477,977) {ipw2100\_pci\_init\_one};
\node[fn] (nzd) at (1477,988) {zd1201\_probe};
\node[nfnS] (nxmitframe) at (1412,999) {e1000\_xmit\_frame};
\node[fn] (nintr) at (1359,1019) {e1000\_intr};

\node[hwtitle] (enettitle) at (1425,1083) {\scalebox{.86}[1]{network controllers}};
\node[hwlbl] (eethernet) at (1367,1110) {Ethernet};
\node[hwlbl] (ewifi) at (1477,1110) {WiFi};

% connections
\begin{pgfonlayer}{wires}
  % human interface
  \draw[link] (hcdevadd) -- (hinputfops);
  \draw[link] (hcdevadd) -- (hconsolefops);
  \draw[link] (hcdevadd) -- (hfbfops);
  \draw[link] (hcdevadd) -- (hvideofops);
  \draw[link] (hcdevadd) -- (hsndfops);
  \draw[wire] (hcdevadd) -- (scdevadd);
  \draw[link] (hinputfops) -- (hmousedevh);
  \draw[link] (hmousedevh) -- (hmousedev);
  \draw[link] (hmousedev) -- (hpsmouse);
  \draw[link] (hpsmouse) -- (emouse);
  \draw[link] (hconsolefops) -- (htty);
  \draw[link] (hkbd |- htty.south) -- (hkbd);
  \draw[link] (hkbd) -- (hatkbd);
  \draw[link] (hatkbd) -- (hi8042);
  \draw[link] (hi8042) -- (ekeyboard);
  \draw[link] (hconsole |- htty.south) -- (hconsole);
  \draw[link] (hconsole) -- (hvgacon);
  \draw[link] (hvgacon) -- (egraphics);
  \draw[link] (hfbfops) -- (hfbops);
  \draw[link] (hfbops) -- (egraphics);
  \draw[link] (hvideofops) -- (hvideodev);
  \draw[link] (hvideodev) -- (huvc);
  \draw[link] (huvc) -- (ecamera);
  \draw[link] (hsyslog) -- (dlogbuf);
  \draw[link] (hsndfops) -- (hoss);
  \draw[link] (halsa) -- (hac97);
  \draw[link] (hac97) -- (eaudio);
  \draw[link] (hsyscapset) -- (secapset);
  \draw[link] (huvc) -- (susbdriver);
  % system
  \draw[link] (ssysfs) -- (ssysfsops);
  \draw[link] (sregchrdev) -- (scdevadd);
  \draw[link] (scdevadd) -- (scdevmap);
  \draw[link] (scdevmap) -- (scdev);
  \draw[link] (dmbox.north) -- (ssci);
  \draw[wire] (ssysclass) -- (dmclass);
  \draw[wire] (ssysinitmod) -- (sloadmod);
  \draw[link] (ssysreboot) -- (skernrestart);
  \draw[link] (skvmioctl) -- (skvm);
  \draw[link] (scdev) -- (finode);
  \draw[wire] (sepoll) -- (fallocfile);
  \draw[wire] (fsysopen) -- (secsecurityh);
  \draw[wire] (secsockcreate) -- (nsockcreate);
  \draw[link] (dmdevdrv) -- (susbdriver);
  \draw[wire] (ssci) -- (psyscall);
  \draw[link] (sstartkernel) -- (sdoinitcalls);
  \draw[link] (sstartkernel) -- (sruninit);
  \draw[link] (sstartkernel) -- (smountroot);
  \draw[wire] (sstartkernel) -- (mmminit);
  \draw[wire] (sstartkernel) -- (psetuparch);
  \draw[wire] (sstartkernel) -- (ptrapinit);
  \draw[link] (susbhcdgive) -- (susbdriver);
  \draw[link] (ssubmiturb) -- (susbdriver);
  \draw[link] (ssubmiturb) -- (sehciurb);
  \draw[link] (sehciurb) -- (eusbctl);
  \draw[link] (susbhcd) -- (eusbctl);
  \draw[link] (eusbctl) -- (susbhcdirq);
  \draw[link] (susbhcdirq) -- (sehciirq);
  \draw[link] (sehciirq) -- (susbhcdgive);
  \draw[link] (spcidriver) -- (epcictl);
  \draw[link] (sreadw) -- (eiomem);
  \draw[link] (sinw) -- (eioports);
  \draw[wire] (susbdriver) -- (fusbstorage);
  % processing
  \draw[link] (pexecve) -- (pbinfmt);
  \draw[wire] (pexecve) -- (mdommap);
  \draw[link] (pclone) -- (pdofork);
  \draw[link] (pschedwork) -- (pworkstruct);
  \draw[link] (pschedwork) -- (pqueuework);
  \draw[link] (pinitwork) -- (pworkstruct);
  \draw[link] (pqueuework) -- (pwqstruct);
  \draw[link] (pcreatewq) -- (pwqstruct);
  \draw[link] (pkthread) -- (pkernthread);
  \draw[link] (pkernthread) -- (pdofork);
  \draw[link] (pcurrent) -- (pthreadinfo);
  \draw[wire] (pthreadinfo) -- (syncbox);
  \draw[wire] (pdofork) -- (syncbox);
  \draw[link] (pmsleep) -- (pschedtimeout);
  \draw[link] (pschedtimeout) -- (psetuptimer);
  \draw[link] (psetuptimer) -- (pproctimeout);
  \draw[link] (pproctimeout) -- (pactivate);
  \draw[link] (pactivate) -- (prq);
  \draw[link] (pschedtimeout) -- (pschedule);
  \draw[link] (prq) -- (pschedule);
  \draw[link] (pschedule) -- (ptaskstruct);
  \draw[link] (pschedule) -- (pctxswitch);
  \draw[link] (pwaitevent) -- (ptaskstruct);
  \draw[link] (pspinlock) -- (ptaskstruct);
  \draw[link] (psemaphore) -- (pschedule);
  \draw[link] (pwakeup) -- (pactivate);
  \draw[wire] (prunsoftirq) -- (pdosoftirq);
  \draw[link] (mmapbox) -- (ptaskstruct);
  \draw[link] (preqirq) -- (psetupirq);
  \draw[link] (psetupirq) -- (pirqdesc);
  \draw[link] (pdoirq) -- (pirqdesc);
  \draw[link] (pdoirq) -- (ptimerint);
  \draw[link] (ptimerint) -- (ptick);
  \draw[link] (ptick) -- (pdotimer);
  \draw[link] (pdotimer) -- (pjiffies);
  \draw[link] (pdosoftirq) -- (ptaskletaction);
  \draw[link] (ptaskletaction) -- (ptaskletstruct);
  \draw[link] (pinterrupt) -- (pdoirq);
  \draw[link] (pinterrupt) -- (pdosoftirq);
  \draw[link] (pnativeirq) -- (psetintr);
  \draw[link] (psetintr) -- (eintctl);
  \draw[link] (eintctl) -- (pinterrupt);
  \draw[link] (pptregs) -- (eregisters);
  \draw[link] (pctxswitch) -- (pswitchto);
  \draw[link] (ptrapinit) -- (mdopagefault);
  \draw[wire] (psetuparch) -- (pearlytrap);
  % memory
  \draw[link] (msysinfo) -- (msimeminfo);
  \draw[wire] (msysinfo) -- (fsiswapinfo);
  \draw[wire] (msysmmap) -- (mmapbox);
  \draw[link] (mshmat) -- (mdommap);
  \draw[wire] (mmsync) -- ($(pcbox.north west)!.2!(pcbox.north east)$);
  \draw[wire] (mprocmaps) -- (mmapbox);
  \draw[link] (mvmallocinit) -- (mvmlist);
  \draw[link] (mvmalloc) -- (mvmlist);
  \draw[link] (mvmlist) -- (mvmstruct);
  \draw[link] (mvmstruct) -- (mvirttopage);
  \draw[link] (mvirttopage) -- (mpgd);
  \draw[wire] (mpte) -- (mpage);
  \draw[link] (mpage) -- (eram);
  \draw[link] (mvmalloc) -- (mkmalloc);
  \draw[link] (mvfree) -- (mkfree);
  \draw[wire] (mfindvma) -- (mmapbox);
  \draw[wire] (mmminit |- mmapbox.south) -- (mmminit);
  \draw[link] (mdommap |- mmapbox.south) -- (mfreepages);
  \draw[link] (mkfree) -- (mfreepages);
  \draw[link] (mkmalloc) -- (mkmemcache);
  \draw[link] (mmminit) -- (mkmcinit);
  \draw[link] (mmminit) -- (mmeminit);
  \draw[link] (mkmalloc) -- (mallocpages);
  \draw[link] (mgetfree) -- (mallocpages);
  \draw[link] (mallocpages) -- (mtrytofree);
  \draw[link] (mallocpages) -- (mgetpagefl);
  \draw[link] (mfreepages) -- (mfreeonepage);
  \draw[link] (mfreeonepage) -- (mfreelist);
  \draw[link] (mgetpagefl) -- (mfreelist);
  \draw[link] (mzone) -- (mfreearea);
  \draw[link] (mfreearea) -- (mfreelist);
  \draw[link] (mdopagefault) -- (moom);
  \draw[link] (mdie) -- (mdopagefault);
  \draw[link] (emmu) -- (mdopagefault);
  \draw[wire] (mdopagefault) -- (swapbox);
  \draw[wire] (ffile) -- (mdommap);
  % storage
  \draw[link] (fsysopen) -- (fpathlookup);
  \draw[link] (fsysreadv) -- (fiovec);
  \draw[link] (fchown) -- (fnotifychange);
  \draw[link] (fchmod) -- (fnotifychange);
  \draw[link] (fnotifychange) -- (ffsnchange);
  \draw[link] (fnotifychange) -- (finodesetattr);
  \draw[link] (finotify) -- (fallocfile);
  \draw[link] (ffget) -- (ffd);
  \draw[link] (ffget) -- (ffile);
  \draw[link] (fsysread) -- (fvfsread);
  \draw[link] (fvfsread) -- (fgenaio);
  \draw[link] (fsendfile) -- (fsplicedirect);
  \draw[link] (fsyssysfs) -- (ffilesystems);
  \draw[link] (ffsnchange) -- (ffsnotify);
  \draw[link] (fnewfstat) -- (fvfsfstat);
  \draw[link] (fsysfsync) -- (fvfsfsync);
  \draw[link] (fgetdents) -- (fext4readdir);
  \draw[wire] (fswapon) -- (fswapinfo);
  \draw[link] (fmount) -- (ffstype);
  \draw[wire] (fsync) -- (pcbox);
  \draw[link] (fvfscreate) -- (ffileops);
  \draw[link] (finode) -- (finodeops);
  \draw[link] (finode) -- (ffileops);
  \draw[link] (fgetsb) -- (fext4getsb);
  \draw[link] (ffileops) -- (fext4fileops);
  \draw[wire] (fvfswrite) -- (nsockfileops);
  \draw[wire] (fsplicedirect) -- (ssbox);
  \draw[link] (swapbox) -- (fblockdev);
  \draw[link] (fgendisk) -- (fbdo);
  \draw[link] (fgendisk) -- (freqqueue);
  \draw[link] (fbdo) -- (finitscsi);
  \draw[link] (freqqueue) -- (finitscsi);
  \draw[link] (fusbstorage) -- (fusbstorhost);
  \draw[link] (freqqueue) -- (flibata);
  \draw[link] (flibata) -- (fahci);
  \draw[link] (fahci) -- (esata);
  \draw[link] (fscsihostalloc) -- (fscsihost);
  \draw[link] (fscsihost) -- (faic);
  \draw[link] (faic) -- (escsi);
  % networking
  \draw[link] (nsyssocket) -- (nsockcreate);
  \draw[link] (nsockioctl) -- (nsocket);
  \draw[link] (nsockcreate) -- (nsocket);
  \draw[link] (nsockcreate) -- (ninetfam);
  \draw[link] (nsockcreate) -- (nunixfam);
  \draw[link] (ninetcreate) -- (nprotoops);
  \draw[link] (nprotoops) -- (ninetdgram);
  \draw[link] (nprotoops) -- (ninetstream);
  \draw[link] (ninetcreate) -- (nproto);
  \draw[link] (ninetdgram) -- (nudpprot);
  \draw[link] (ninetstream) -- (ntcpprot);
  \draw[link] (nproto) -- (nudpprot);
  \draw[link] (nproto) -- (ntcpprot);
  \draw[link] (nudpprot) -- (nudprecv);
  \draw[link] (nudpprot) -- (nudpsend);
  \draw[link] (nudprecv) -- (nudprcv);
  \draw[link] (ntcpprot) -- (ntcprecv);
  \draw[link] (ntcpprot) -- (ntcpsend);
  \draw[link] (ntcprecv) -- (ntcpvfour);
  \draw[link] (ntcpsend) -- (ntcpxmit);
  \draw[link] (ntcpxmit) -- (nipqueue);
  \draw[link] (nipqueue) -- (nipoutput);
  \draw[link] (nudpsend) -- (nipoutput);
  \draw[link] (nippush) -- (nipoutput);
  \draw[link] (nippush) -- (nnfhook);
  \draw[link] (niplocal) -- (nnfhook);
  \draw[link] (niplocal) -- (ntcpvfour);
  \draw[link] (niplocal) -- (nudprcv);
  \draw[link] (niproute) -- (niplocal);
  \draw[link] (niprcv) -- (niproute);
  \draw[link] (nallocskb) -- (nskbuff);
  \draw[link] (nnetifrecv) -- (niprcv);
  \draw[link] (nipoutput) -- (ndevqueue);
  \draw[link] (nnetifrx) -- (nnetifrecv);
  \draw[link] (ndevqueue) -- (eethernet);
  \draw[link] (nintr) -- (nnetifrecv);
  \draw[link] (eethernet) -- (nintr);
  \draw[link] (nieeexmit) -- (nipw);
  \draw[link] (nzd) -- (ewifi);
  \draw[wire] (nusbnet) -- (nregnetdev);
\end{pgfonlayer}

\end{tikzpicture}
\end{document}
